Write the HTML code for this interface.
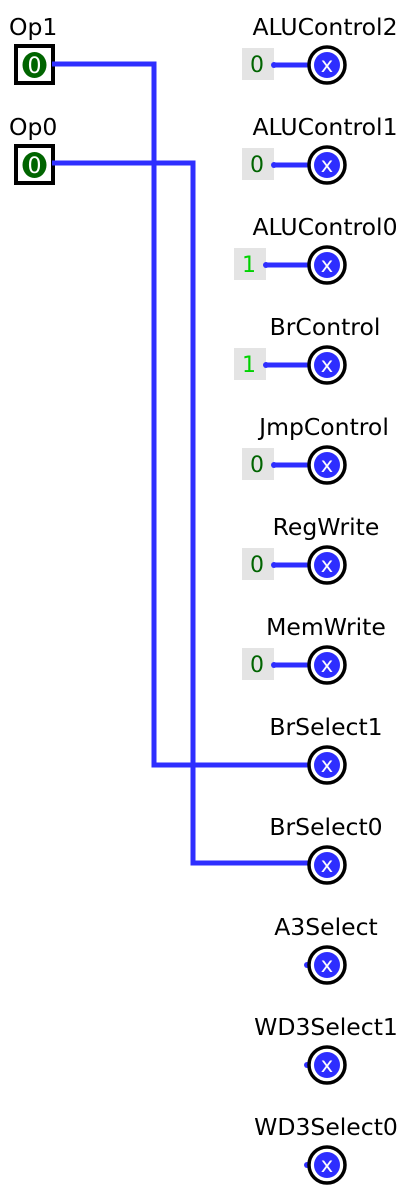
<!DOCTYPE html>
<html><head><style>body{margin:0;background:#fff}svg{display:block}text{font-family:"DejaVu Sans","Liberation Sans",sans-serif}</style></head><body>
<svg width="412" height="1194" xmlns="http://www.w3.org/2000/svg">
<g font-size="23.5" fill="#000">
<text x="9" y="35">Op1</text>
<text x="9" y="135">Op0</text>
</g>
<rect x="16" y="46" width="37" height="37" fill="#fff" stroke="#000" stroke-width="4"/>
<rect x="16" y="146" width="37" height="37" fill="#fff" stroke="#000" stroke-width="4"/>
<ellipse cx="34.5" cy="65" rx="12" ry="13" fill="#006400"/><text x="34.5" y="73" font-size="22" fill="#fff" text-anchor="middle">0</text>
<ellipse cx="34.5" cy="165" rx="12" ry="13" fill="#006400"/><text x="34.5" y="173" font-size="22" fill="#fff" text-anchor="middle">0</text>
<g fill="none" stroke="#2e2eff" stroke-width="5">
<polyline points="52,64 154,64 154,765 310,765"/>
<polyline points="52,163 193,163 193,863 310,863"/>
</g>
<g font-size="23.5" text-anchor="middle">
<text x="325" y="35">ALUControl2</text>
<text x="325" y="135">ALUControl1</text>
<text x="325" y="235">ALUControl0</text>
<text x="325" y="335">BrControl</text>
<text x="324" y="435">JmpControl</text>
<text x="326" y="535">RegWrite</text>
<text x="326" y="635">MemWrite</text>
<text x="326" y="735">BrSelect1</text>
<text x="326" y="835">BrSelect0</text>
<text x="326" y="935">A3Select</text>
<text x="326" y="1035">WD3Select1</text>
<text x="326" y="1135">WD3Select0</text>
</g>
<g font-size="22">
<rect x="242" y="48" width="32" height="32" fill="#e4e4e4"/><text x="250" y="72" fill="#006400">0</text>
<rect x="242" y="148" width="32" height="32" fill="#e4e4e4"/><text x="250" y="172" fill="#006400">0</text>
<rect x="234" y="248" width="32" height="32" fill="#e4e4e4"/><text x="242" y="272" fill="#00d200">1</text>
<rect x="234" y="348" width="32" height="32" fill="#e4e4e4"/><text x="242" y="372" fill="#00d200">1</text>
<rect x="242" y="448" width="32" height="32" fill="#e4e4e4"/><text x="250" y="472" fill="#006400">0</text>
<rect x="242" y="548" width="32" height="32" fill="#e4e4e4"/><text x="250" y="572" fill="#006400">0</text>
<rect x="242" y="648" width="32" height="32" fill="#e4e4e4"/><text x="250" y="672" fill="#006400">0</text>
</g>
<g stroke="#2e2eff" stroke-width="5">
<line x1="274" y1="65" x2="310" y2="65"/><line x1="274" y1="165" x2="310" y2="165"/>
<line x1="266" y1="265" x2="310" y2="265"/><line x1="266" y1="365" x2="310" y2="365"/>
<line x1="274" y1="465" x2="310" y2="465"/><line x1="274" y1="565" x2="310" y2="565"/>
<line x1="274" y1="665" x2="310" y2="665"/>
</g>
<g fill="#2e2eff">
<circle cx="274" cy="65" r="3"/><circle cx="274" cy="165" r="3"/><circle cx="266" cy="265" r="3"/><circle cx="266" cy="365" r="3"/>
<circle cx="274" cy="465" r="3"/><circle cx="274" cy="565" r="3"/><circle cx="274" cy="665" r="3"/>
<circle cx="307" cy="965" r="3"/><circle cx="307" cy="1065" r="3"/><circle cx="307" cy="1165" r="3"/>
</g>
<g font-size="21" text-anchor="middle">
<g transform="translate(327,65)"><circle r="18" fill="#fff" stroke="#000" stroke-width="3.5"/><circle r="13" fill="#2e2eff"/><text y="7" fill="#fff">x</text></g>
<g transform="translate(327,165)"><circle r="18" fill="#fff" stroke="#000" stroke-width="3.5"/><circle r="13" fill="#2e2eff"/><text y="7" fill="#fff">x</text></g>
<g transform="translate(327,265)"><circle r="18" fill="#fff" stroke="#000" stroke-width="3.5"/><circle r="13" fill="#2e2eff"/><text y="7" fill="#fff">x</text></g>
<g transform="translate(327,365)"><circle r="18" fill="#fff" stroke="#000" stroke-width="3.5"/><circle r="13" fill="#2e2eff"/><text y="7" fill="#fff">x</text></g>
<g transform="translate(327,465)"><circle r="18" fill="#fff" stroke="#000" stroke-width="3.5"/><circle r="13" fill="#2e2eff"/><text y="7" fill="#fff">x</text></g>
<g transform="translate(327,565)"><circle r="18" fill="#fff" stroke="#000" stroke-width="3.5"/><circle r="13" fill="#2e2eff"/><text y="7" fill="#fff">x</text></g>
<g transform="translate(327,665)"><circle r="18" fill="#fff" stroke="#000" stroke-width="3.5"/><circle r="13" fill="#2e2eff"/><text y="7" fill="#fff">x</text></g>
<g transform="translate(327,765)"><circle r="18" fill="#fff" stroke="#000" stroke-width="3.5"/><circle r="13" fill="#2e2eff"/><text y="7" fill="#fff">x</text></g>
<g transform="translate(327,865)"><circle r="18" fill="#fff" stroke="#000" stroke-width="3.5"/><circle r="13" fill="#2e2eff"/><text y="7" fill="#fff">x</text></g>
<g transform="translate(327,965)"><circle r="18" fill="#fff" stroke="#000" stroke-width="3.5"/><circle r="13" fill="#2e2eff"/><text y="7" fill="#fff">x</text></g>
<g transform="translate(327,1065)"><circle r="18" fill="#fff" stroke="#000" stroke-width="3.5"/><circle r="13" fill="#2e2eff"/><text y="7" fill="#fff">x</text></g>
<g transform="translate(327,1165)"><circle r="18" fill="#fff" stroke="#000" stroke-width="3.5"/><circle r="13" fill="#2e2eff"/><text y="7" fill="#fff">x</text></g>
</g>
</svg>
</body></html>
